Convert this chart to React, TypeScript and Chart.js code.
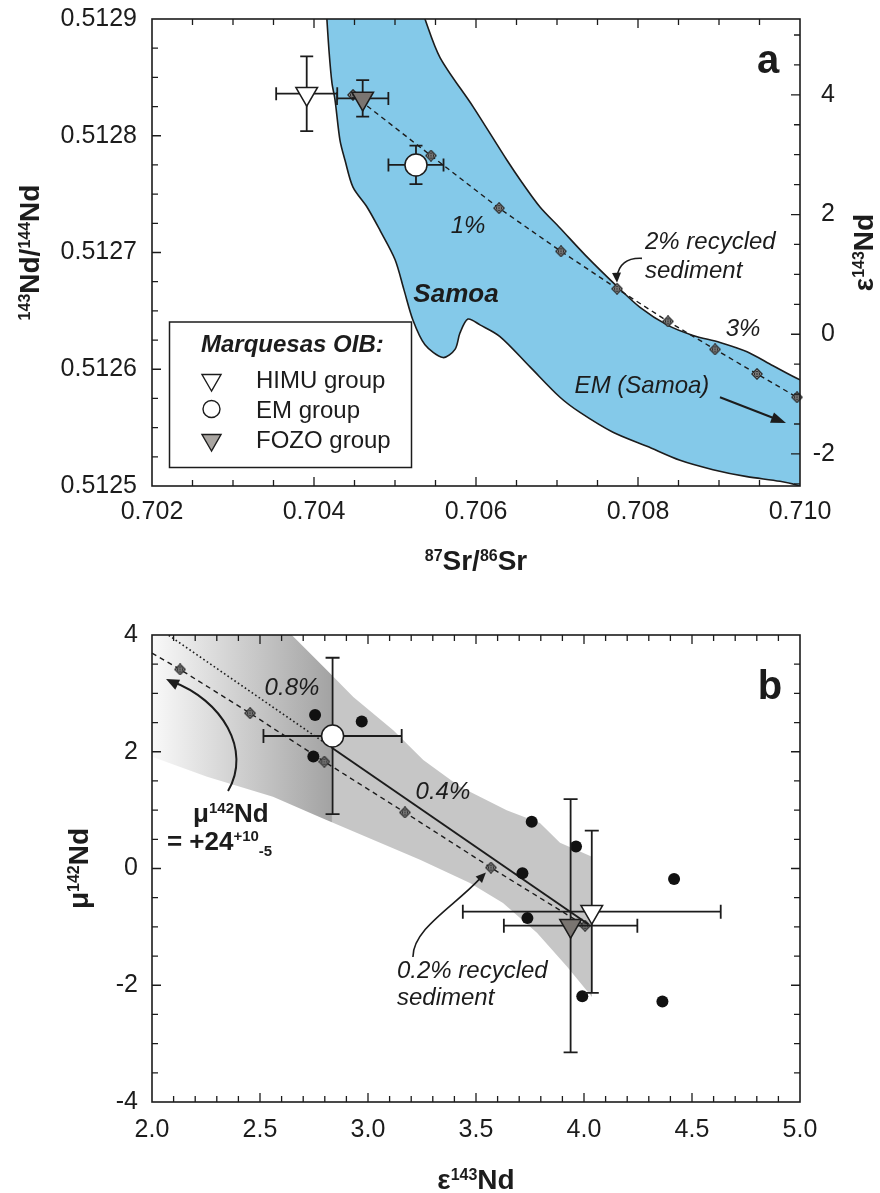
import React, { useEffect, useRef } from "react";
import { Chart, registerables } from "chart.js";

Chart.register(...registerables);

const FONT = '"Liberation Sans", Arial, Helvetica, sans-serif';
const INK = "#1c1c1c";
const SAMOA_BLUE = "#84c9e9";
Chart.defaults.font.family = FONT;
Chart.defaults.font.size = 25;
Chart.defaults.color = INK;

/* ---------------- panel a: 87Sr/86Sr vs 143Nd/144Nd ---------------- */

const CHUR_ND = 0.51263; // 143Nd/144Nd (CHUR) used for the εNd axis

const srTicks = [0.702, 0.704, 0.706, 0.708, 0.71];
const ndTicks = [0.5125, 0.5126, 0.5127, 0.5128, 0.5129];
const epsTicksA = [-2, 0, 2, 4];

// Samoa field outline, traced clockwise; the ends run past the frame and are clipped
const samoaSr = [
  0.704148, 0.704185, 0.704222, 0.704259, 0.704321, 0.704383, 0.704481, 0.704654,
  0.704815, 0.705, 0.705111, 0.705222, 0.70537, 0.705593, 0.705741, 0.705802,
  0.705901, 0.706049, 0.706296, 0.706667, 0.707037, 0.707284, 0.707691, 0.708111,
  0.708519, 0.708926, 0.709346, 0.709753, 0.71, 0.710185, 0.710185, 0.71,
  0.709667, 0.709346, 0.709012, 0.708679, 0.708358, 0.708025, 0.707741, 0.707346,
  0.707037, 0.70679, 0.706568, 0.706383, 0.705963, 0.705556, 0.70537, 0.705321,
];
const samoaNd = [
  0.512912, 0.512873, 0.512845, 0.512831, 0.512796, 0.512779, 0.512756, 0.512739,
  0.512719, 0.512694, 0.512668, 0.512642, 0.512621, 0.51261, 0.512617, 0.512631,
  0.512643, 0.512638, 0.512628, 0.512602, 0.512576, 0.512563, 0.512546, 0.512534,
  0.512522, 0.512514, 0.512508, 0.512504, 0.5125, 0.512495, 0.512587, 0.512591,
  0.512603, 0.512615, 0.512623, 0.512629, 0.512638, 0.512653, 0.512671, 0.512698,
  0.512721, 0.512739, 0.51276, 0.512779, 0.512825, 0.512867, 0.5129, 0.512912,
];

// recycled-sediment mixing curve, 0.5 % steps from 0 to 4 %
const mixSr = [0.704481, 0.705444, 0.706284, 0.707049, 0.707741, 0.70837, 0.708951, 0.709469, 0.709963];
const mixNd = [0.512835, 0.512783, 0.512738, 0.512701, 0.512669, 0.512641, 0.512617, 0.512596, 0.512576];

// Marquesas OIB group means (HIMU, EM, FOZO) with error bars
const groupLabels = ["HIMU group", "EM group", "FOZO group"];
const groupSr = [0.70391, 0.705259, 0.704601];
const groupSrErr = [0.000377, 0.00034, 0.000317];
const groupNd = [0.512836, 0.512775, 0.512832];
const groupNdErr = [0.000032, 0.0000165, 0.0000157];

/* ---------------- panel b: ε143Nd vs μ142Nd ---------------- */

const epsTicksB = [2.0, 2.5, 3.0, 3.5, 4.0, 4.5, 5.0];
const muTicks = [-4, -2, 0, 2, 4];

// individual samples
const sampleEps = [2.755, 2.971, 2.747, 3.758, 3.963, 3.715, 3.738, 3.992, 4.417, 4.363];
const sampleMu = [2.63, 2.52, 1.92, 0.8, 0.375, -0.08, -0.85, -2.19, -0.18, -2.28];

// group means (HIMU, EM, FOZO) with error bars
const groupEps = [4.036, 2.836, 3.938];
const groupEpsErr = [0.597, 0.32, 0.309];
const groupMu = [-0.74, 2.27, -0.98];
const groupMuErr = [1.39, 1.34, 2.17];

// uncertainty envelope of the mixing model
const bandEps = [
  1.95, 2.593, 2.809, 2.932, 3.117, 3.256, 3.426, 3.642, 3.796, 3.889, 4.037,
  4.037, 3.921, 3.782, 3.625, 3.472, 3.241, 2.778, 2.56, 2.255, 1.95,
];
const bandMu = [
  4.2, 4.2, 3.4, 2.94, 2.37, 1.86, 1.4, 1.0, 0.78, 0.44, 0.2,
  -2.2, -1.68, -1.1, -0.59, -0.25, 0.15, 0.88, 1.23, 1.57, 1.98,
];

// mixing curve, 0.2 % steps (first value is where the line leaves the frame)
const mixEpsB = [2.0, 2.13, 2.454, 2.798, 3.171, 3.569, 4.005];
const mixMuB = [3.69, 3.41, 2.66, 1.83, 0.96, 0.015, -0.98];
const mixMarkB = [0, 1, 1, 1, 1, 1, 1];

// HIMU–EM trend: dotted beyond EM, solid between EM and HIMU
const dottedEps = [2.836, 2.04];
const dottedMu = [2.06, 4.09];
const solidEps = [2.836, 4.02];
const solidMu = [2.06, -0.955];

/* ---------------- helpers ---------------- */

const epsOf = (r: number) => (r / CHUR_ND - 1) * 1e4;
const pts = (xs: number[], ys: number[]) => xs.map((x, i) => ({ x, y: ys[i] }));
const steps = (min: number, max: number, step: number) => {
  const out: number[] = [];
  const n = Math.round((max - min) / step);
  for (let i = 0; i <= n; i++) out.push(min + i * step);
  return out;
};

type Run = { t: string; v?: "sup" | "sub" };

function drawRuns(
  ctx: CanvasRenderingContext2D, parts: Run[], x: number, y: number,
  size: number, small: number, style: string, align: "left" | "center", rot = 0
) {
  ctx.save();
  ctx.translate(x, y);
  if (rot) ctx.rotate(rot);
  ctx.textAlign = "left";
  ctx.textBaseline = "alphabetic";
  const f = (p: Run) => `${style} ${p.v ? small : size}px ${FONT}`;
  let w = 0;
  parts.forEach((p) => { ctx.font = f(p); w += ctx.measureText(p.t).width; });
  let cx = align === "center" ? -w / 2 : 0;
  parts.forEach((p) => {
    ctx.font = f(p);
    const dy = p.v === "sup" ? -size * 0.33 : p.v === "sub" ? size * 0.24 : 0;
    ctx.fillText(p.t, cx, dy);
    cx += ctx.measureText(p.t).width;
  });
  ctx.restore();
}

function text(ctx: CanvasRenderingContext2D, t: string, x: number, y: number, font: string,
  align: CanvasTextAlign = "center", base: CanvasTextBaseline = "middle") {
  ctx.font = font;
  ctx.textAlign = align;
  ctx.textBaseline = base;
  ctx.fillText(t, x, y);
}

function arrowHead(ctx: CanvasRenderingContext2D, tx: number, ty: number, fx: number, fy: number, len = 10, half = 4.5) {
  const a = Math.atan2(ty - fy, tx - fx);
  ctx.beginPath();
  ctx.moveTo(tx, ty);
  ctx.lineTo(tx - len * Math.cos(a) + half * Math.sin(a), ty - len * Math.sin(a) - half * Math.cos(a));
  ctx.lineTo(tx - len * Math.cos(a) - half * Math.sin(a), ty - len * Math.sin(a) + half * Math.cos(a));
  ctx.closePath();
  ctx.fill();
}

function tickMarks(ctx: CanvasRenderingContext2D, area: any, scale: any, vals: number[], major: number, side: string) {
  ctx.beginPath();
  vals.forEach((v) => {
    const p = scale.getPixelForValue(v);
    const isMajor = Math.abs(v / major - Math.round(v / major)) < 1e-6;
    const L = isMajor ? 9 : 6;
    if (side === "bottom" || side === "top") {
      if (p < area.left + 1 || p > area.right - 1) return;
      const y0 = side === "bottom" ? area.bottom : area.top;
      ctx.moveTo(p, y0);
      ctx.lineTo(p, side === "bottom" ? y0 - L : y0 + L);
    } else {
      if (p < area.top + 1 || p > area.bottom - 1) return;
      const x0 = side === "left" ? area.left : area.right;
      ctx.moveTo(x0, p);
      ctx.lineTo(side === "left" ? x0 + L : x0 - L, p);
    }
  });
  ctx.stroke();
}

function triangleDown(ctx: CanvasRenderingContext2D, x: number, y: number, r: number, fill: string) {
  ctx.beginPath();
  ctx.moveTo(x, y + r);
  ctx.lineTo(x - r * 0.866, y - r / 2);
  ctx.lineTo(x + r * 0.866, y - r / 2);
  ctx.closePath();
  ctx.fillStyle = fill;
  ctx.fill();
  ctx.stroke();
}

function makeMixMarker(): HTMLCanvasElement {
  const s = 12;
  const c = document.createElement("canvas");
  c.width = s;
  c.height = s;
  const g = c.getContext("2d")!;
  const h = s / 2;
  g.strokeStyle = "#2a2a2a";
  g.fillStyle = "#d6d6d6";
  g.lineWidth = 1.3;
  g.beginPath();
  g.moveTo(h, 0.8); g.lineTo(s - 0.8, h); g.lineTo(h, s - 0.8); g.lineTo(0.8, h);
  g.closePath();
  g.fill();
  g.stroke();
  g.lineWidth = 1;
  g.beginPath();
  g.arc(h, h, 2.6, 0, Math.PI * 2);
  g.moveTo(h, 2.4); g.lineTo(h, s - 2.4);
  g.moveTo(2.4, h); g.lineTo(s - 2.4, h);
  g.stroke();
  return c;
}

function errorBars(xs: number[], ys: number[], xe: number[], ye: number[], cap: number) {
  return {
    id: "errorBars",
    beforeDatasetsDraw(chart: any) { chart.$ebDone = false; },
    beforeDatasetDraw(chart: any, args: any) {
      const ds = chart.data.datasets[args.index];
      if (!ds.isGroup || chart.$ebDone) return;
      chart.$ebDone = true;
      const ctx = chart.ctx, sx = chart.scales.x, sy = chart.scales.y;
      ctx.save();
      ctx.strokeStyle = INK;
      ctx.lineWidth = 1.8;
      ctx.beginPath();
      xs.forEach((x, i) => {
        const px = sx.getPixelForValue(x), py = sy.getPixelForValue(ys[i]);
        const l = sx.getPixelForValue(x - xe[i]), r = sx.getPixelForValue(x + xe[i]);
        const t = sy.getPixelForValue(ys[i] + ye[i]), b = sy.getPixelForValue(ys[i] - ye[i]);
        ctx.moveTo(l, py); ctx.lineTo(r, py);
        ctx.moveTo(l, py - cap); ctx.lineTo(l, py + cap);
        ctx.moveTo(r, py - cap); ctx.lineTo(r, py + cap);
        ctx.moveTo(px, t); ctx.lineTo(px, b);
        ctx.moveTo(px - cap, t); ctx.lineTo(px + cap, t);
        ctx.moveTo(px - cap, b); ctx.lineTo(px + cap, b);
      });
      ctx.stroke();
      ctx.restore();
    },
  };
}

const groupDataset = (i: number, xs: number[], ys: number[]) => {
  const base: any = {
    label: groupLabels[i],
    data: [{ x: xs[i], y: ys[i] }],
    pointBackgroundColor: ["#ffffff", "#ffffff", "#7a7571"][i],
    pointBorderColor: INK,
    pointBorderWidth: 1.5,
    order: 0,
    clip: false,
    isGroup: true,
  };
  if (i === 1) return { ...base, pointStyle: "circle", pointRadius: 11 };
  return { ...base, pointStyle: "triangle", pointRotation: 180, pointRadius: 12.5 };
};

const axisCommon = {
  type: "linear" as const,
  grid: { display: false, drawTicks: false },
  border: { display: false },
};

// vertical axes: fixed width, and no extra room reserved for the end labels
const fixWidth = (w: number) => (s: any) => {
  s.width = w;
  s.paddingTop = 0;
  s.paddingBottom = 0;
};

/* ---------------- panel a ---------------- */

const decorA = {
  id: "decorA",
  afterDatasetsDraw(chart: any) {
    const ctx: CanvasRenderingContext2D = chart.ctx;
    const sx = chart.scales.x, sy = chart.scales.y, a = chart.chartArea;
    const X = (v: number) => sx.getPixelForValue(v), Y = (v: number) => sy.getPixelForValue(v);
    ctx.save();
    ctx.fillStyle = INK;
    ctx.strokeStyle = INK;

    text(ctx, "Samoa", X(0.705753), Y(0.512664), `italic bold 26px ${FONT}`);
    text(ctx, "1%", X(0.705901), Y(0.512722), `italic 24px ${FONT}`);
    text(ctx, "3%", X(0.709296), Y(0.512634), `italic 24px ${FONT}`);
    text(ctx, "2% recycled", X(0.708086), Y(0.512703), `italic 24px ${FONT}`, "left", "alphabetic");
    text(ctx, "sediment", X(0.708086), Y(0.512678), `italic 24px ${FONT}`, "left", "alphabetic");
    text(ctx, "EM (Samoa)", X(0.708049), Y(0.512585), `italic 24px ${FONT}`);

    // arrow onto the 2 % point of the mixing curve
    const tipX = X(mixSr[4]), tipY = Y(mixNd[4]) - 6;
    const sX = X(0.708049), sY = Y(0.512695);
    const cX = tipX + 3, cY = sY - 1;
    ctx.lineWidth = 1.6;
    ctx.beginPath();
    ctx.moveTo(sX, sY);
    ctx.quadraticCurveTo(cX, cY, tipX, tipY - 6);
    ctx.stroke();
    arrowHead(ctx, tipX, tipY, tipX - 0.5, tipY - 10, 10, 4.5);

    // arrow towards the EM (Samoa) end-member
    const e0x = X(0.709012), e0y = Y(0.512576), e1x = X(0.709827), e1y = Y(0.512554);
    ctx.lineWidth = 2;
    ctx.beginPath();
    ctx.moveTo(e0x, e0y);
    ctx.lineTo(e1x - 8, e1y - 3.2);
    ctx.stroke();
    arrowHead(ctx, e1x, e1y, e0x, e0y, 15, 5.5);

    // legend box
    const L = a.left + 17.5, T = a.top + 303, W = 242, H = 145.5;
    ctx.fillStyle = "#ffffff";
    ctx.fillRect(L, T, W, H);
    ctx.lineWidth = 1.5;
    ctx.strokeRect(L, T, W, H);
    ctx.fillStyle = INK;
    text(ctx, "Marquesas OIB:", L + 31.5, T + 30, `italic bold 24px ${FONT}`, "left", "alphabetic");
    const rows = [66, 96, 126];
    groupLabels.forEach((g, i) => {
      text(ctx, g, L + 86.5, T + rows[i], `24px ${FONT}`, "left", "alphabetic");
    });
    ctx.lineWidth = 1.4;
    triangleDown(ctx, L + 42, T + rows[0] - 8, 11, "#ffffff");
    ctx.beginPath();
    ctx.arc(L + 42, T + rows[1] - 9, 8.5, 0, Math.PI * 2);
    ctx.fillStyle = "#ffffff";
    ctx.fill();
    ctx.stroke();
    triangleDown(ctx, L + 42, T + rows[2] - 8, 11, "#a9a5a1");
    ctx.fillStyle = INK;

    text(ctx, "a", X(0.709605), Y(0.512863), `bold 40px ${FONT}`);
    ctx.restore();
  },
  afterDraw(chart: any) {
    const ctx: CanvasRenderingContext2D = chart.ctx;
    const a = chart.chartArea;
    ctx.save();
    ctx.strokeStyle = INK;
    ctx.fillStyle = INK;
    ctx.lineWidth = 1.3;
    const xt = steps(0.702, 0.71, 0.0005);
    tickMarks(ctx, a, chart.scales.x, xt, 0.002, "bottom");
    tickMarks(ctx, a, chart.scales.x, xt, 0.002, "top");
    tickMarks(ctx, a, chart.scales.y, steps(0.5125, 0.5129, 0.000025), 0.0001, "left");
    tickMarks(ctx, a, chart.scales.y2, steps(-2.5, 5, 0.5), 2, "right");
    ctx.lineWidth = 1.6;
    ctx.strokeRect(a.left, a.top, a.right - a.left, a.bottom - a.top);

    const mid = (a.top + a.bottom) / 2;
    drawRuns(ctx, [{ t: "87", v: "sup" }, { t: "Sr/" }, { t: "86", v: "sup" }, { t: "Sr" }],
      (a.left + a.right) / 2, a.bottom + 84, 28, 16, "bold", "center");
    drawRuns(ctx, [{ t: "143", v: "sup" }, { t: "Nd/" }, { t: "144", v: "sup" }, { t: "Nd" }],
      39, mid, 28, 16, "bold", "center", -Math.PI / 2);
    drawRuns(ctx, [{ t: "ε" }, { t: "143", v: "sup" }, { t: "Nd" }],
      873, mid, 28, 16, "bold", "center", -Math.PI / 2);
    ctx.restore();
  },
};

function buildPanelA(canvas: HTMLCanvasElement, mark: HTMLCanvasElement) {
  return new Chart(canvas, {
    type: "scatter",
    data: {
      datasets: [
        {
          label: "Samoa",
          data: pts(samoaSr, samoaNd),
          showLine: true,
          fill: "shape",
          backgroundColor: SAMOA_BLUE,
          borderColor: INK,
          borderWidth: 1.6,
          tension: 0.3,
          capBezierPoints: false,
          pointRadius: 0,
          clip: 0,
          order: 10,
        } as any,
        {
          label: "recycled sediment",
          data: pts(mixSr, mixNd),
          showLine: true,
          borderColor: INK,
          borderWidth: 1.4,
          borderDash: [5, 4],
          pointStyle: mark,
          pointRadius: 5,
          clip: false,
          order: 5,
        } as any,
        groupDataset(0, groupSr, groupNd),
        groupDataset(1, groupSr, groupNd),
        groupDataset(2, groupSr, groupNd),
      ],
    },
    options: {
      responsive: false,
      animation: false,
      events: [],
      layout: { padding: { left: 0, right: 45, top: 19, bottom: 0 } },
      plugins: { legend: { display: false }, tooltip: { enabled: false } },
      scales: {
        x: {
          ...axisCommon,
          position: "bottom",
          min: 0.702,
          max: 0.71,
          afterBuildTicks: (s: any) => { s.ticks = srTicks.map((value) => ({ value })); },
          afterFit: (s: any) => { s.height = 104; },
          ticks: { autoSkip: false, maxRotation: 0, padding: 11, callback: (v: any) => Number(v).toFixed(3) },
        },
        y: {
          ...axisCommon,
          position: "left",
          min: 0.5125,
          max: 0.5129,
          afterBuildTicks: (s: any) => { s.ticks = ndTicks.map((value) => ({ value })); },
          afterFit: fixWidth(152),
          ticks: { autoSkip: false, padding: 15, callback: (v: any) => Number(v).toFixed(4) },
        },
        y2: {
          ...axisCommon,
          position: "right",
          min: epsOf(0.5125),
          max: epsOf(0.5129),
          afterBuildTicks: (s: any) => { s.ticks = epsTicksA.map((value) => ({ value })); },
          afterFit: fixWidth(35),
          ticks: { autoSkip: false, crossAlign: "far", callback: (v: any) => String(v) },
        },
      },
    } as any,
    plugins: [errorBars(groupSr, groupNd, groupSrErr, groupNdErr, 6.5), decorA],
  });
}

/* ---------------- panel b ---------------- */

function bandFill(c: any) {
  const chart = c.chart;
  const area = chart.chartArea;
  if (!area) return "#c6c6c6";
  const sx = chart.scales.x;
  const x0 = sx.getPixelForValue(2.0), x1 = sx.getPixelForValue(2.83), x2 = sx.getPixelForValue(5.0);
  const g = chart.ctx.createLinearGradient(x0, 0, x2, 0);
  const t = (x1 - x0) / (x2 - x0);
  g.addColorStop(0, "#f9f9f9");
  g.addColorStop(t, "#a3a3a3");
  g.addColorStop(Math.min(1, t + 0.002), "#c6c6c6");
  g.addColorStop(1, "#c6c6c6");
  return g;
}

const decorB = {
  id: "decorB",
  afterDatasetsDraw(chart: any) {
    const ctx: CanvasRenderingContext2D = chart.ctx;
    const sx = chart.scales.x, sy = chart.scales.y;
    const X = (v: number) => sx.getPixelForValue(v), Y = (v: number) => sy.getPixelForValue(v);
    ctx.save();
    ctx.fillStyle = INK;
    ctx.strokeStyle = INK;

    text(ctx, "0.8%", X(2.648), Y(3.092), `italic 24px ${FONT}`);
    text(ctx, "0.4%", X(3.347), Y(1.312), `italic 24px ${FONT}`);
    text(ctx, "0.2% recycled", X(3.134), Y(-1.873), `italic 24px ${FONT}`, "left", "alphabetic");
    text(ctx, "sediment", X(3.134), Y(-2.336), `italic 24px ${FONT}`, "left", "alphabetic");

    // arrow onto the 0.2 % point
    const tipX = X(mixEpsB[5]) - 5, tipY = Y(mixMuB[5]) + 5;
    const sX = X(3.208), sY = Y(-1.514);
    ctx.lineWidth = 1.6;
    ctx.beginPath();
    ctx.moveTo(sX, sY);
    ctx.bezierCurveTo(sX, sY - 28, tipX - 32, tipY + 34, tipX - 6, tipY + 6);
    ctx.stroke();
    arrowHead(ctx, tipX, tipY, tipX - 10, tipY + 10, 10, 4.5);

    // μ142Nd estimate with its arrow
    drawRuns(ctx, [{ t: "μ" }, { t: "142", v: "sup" }, { t: "Nd" }], X(2.19), Y(0.798), 26, 15, "bold", "left");
    drawRuns(ctx, [{ t: "= +24" }, { t: "+10", v: "sup" }, { t: "-5", v: "sub" }], X(2.069), Y(0.318), 26, 15, "bold", "left");
    const a0x = X(2.352), a0y = Y(1.329);
    const ex = X(2.065), ey = Y(3.247);
    ctx.lineWidth = 2;
    ctx.beginPath();
    ctx.moveTo(a0x, a0y);
    ctx.bezierCurveTo(X(2.463), Y(2.03), X(2.324), Y(2.887), ex + 6, ey + 2.5);
    ctx.stroke();
    arrowHead(ctx, ex, ey, X(2.2), Y(3.0), 13, 5.5);

    text(ctx, "b", X(4.861), Y(3.092), `bold 40px ${FONT}`);
    ctx.restore();
  },
  afterDraw(chart: any) {
    const ctx: CanvasRenderingContext2D = chart.ctx;
    const a = chart.chartArea;
    ctx.save();
    ctx.strokeStyle = INK;
    ctx.fillStyle = INK;
    ctx.lineWidth = 1.3;
    const xt = steps(2, 5, 0.1), yt = steps(-4, 4, 0.5);
    tickMarks(ctx, a, chart.scales.x, xt, 0.5, "bottom");
    tickMarks(ctx, a, chart.scales.x, xt, 0.5, "top");
    tickMarks(ctx, a, chart.scales.y, yt, 2, "left");
    tickMarks(ctx, a, chart.scales.y, yt, 2, "right");
    ctx.lineWidth = 1.6;
    ctx.strokeRect(a.left, a.top, a.right - a.left, a.bottom - a.top);

    const mid = (a.top + a.bottom) / 2;
    drawRuns(ctx, [{ t: "ε" }, { t: "143", v: "sup" }, { t: "Nd" }],
      (a.left + a.right) / 2, a.bottom + 87, 28, 16, "bold", "center");
    drawRuns(ctx, [{ t: "μ" }, { t: "142", v: "sup" }, { t: "Nd" }],
      88, mid, 28, 16, "bold", "center", -Math.PI / 2);
    ctx.restore();
  },
};

function buildPanelB(canvas: HTMLCanvasElement, mark: HTMLCanvasElement) {
  return new Chart(canvas, {
    type: "scatter",
    data: {
      datasets: [
        {
          label: "model envelope",
          data: pts(bandEps, bandMu),
          showLine: true,
          fill: "shape",
          backgroundColor: bandFill,
          borderWidth: 0,
          borderColor: "rgba(0,0,0,0)",
          pointRadius: 0,
          clip: 0,
          order: 10,
        } as any,
        {
          label: "trend (extrapolated)",
          data: pts(dottedEps, dottedMu),
          showLine: true,
          borderColor: INK,
          borderWidth: 1.6,
          borderDash: [1.6, 2.6],
          pointRadius: 0,
          clip: 0,
          order: 8,
        } as any,
        {
          label: "recycled sediment",
          data: pts(mixEpsB, mixMuB),
          showLine: true,
          borderColor: INK,
          borderWidth: 1.4,
          borderDash: [5, 4],
          pointStyle: mark,
          pointRadius: mixMarkB.map((m) => (m ? 5 : 0)),
          clip: false,
          order: 7,
        } as any,
        {
          label: "trend",
          data: pts(solidEps, solidMu),
          showLine: true,
          borderColor: INK,
          borderWidth: 2,
          pointRadius: 0,
          clip: 0,
          order: 6,
        } as any,
        {
          label: "samples",
          data: pts(sampleEps, sampleMu),
          pointStyle: "circle",
          pointRadius: 6,
          pointBackgroundColor: "#111111",
          pointBorderColor: "#111111",
          pointBorderWidth: 0,
          clip: false,
          order: 4,
        } as any,
        groupDataset(0, groupEps, groupMu),
        groupDataset(1, groupEps, groupMu),
        groupDataset(2, groupEps, groupMu),
      ],
    },
    options: {
      responsive: false,
      animation: false,
      events: [],
      layout: { padding: { left: 0, right: 80, top: 45, bottom: 0 } },
      plugins: { legend: { display: false }, tooltip: { enabled: false } },
      scales: {
        x: {
          ...axisCommon,
          position: "bottom",
          min: 2,
          max: 5,
          afterBuildTicks: (s: any) => { s.ticks = epsTicksB.map((value) => ({ value })); },
          afterFit: (s: any) => { s.height = 91; },
          ticks: { autoSkip: false, maxRotation: 0, padding: 13, callback: (v: any) => Number(v).toFixed(1) },
        },
        y: {
          ...axisCommon,
          position: "left",
          min: -4,
          max: 4,
          afterBuildTicks: (s: any) => { s.ticks = muTicks.map((value) => ({ value })); },
          afterFit: fixWidth(152),
          ticks: { autoSkip: false, padding: 14, callback: (v: any) => String(v) },
        },
      },
    } as any,
    plugins: [errorBars(groupEps, groupMu, groupEpsErr, groupMuErr, 7), decorB],
  });
}

export default function App() {
  const refA = useRef<HTMLCanvasElement>(null);
  const refB = useRef<HTMLCanvasElement>(null);
  useEffect(() => {
    const mark = makeMixMarker();
    const a = buildPanelA(refA.current!, mark);
    const b = buildPanelB(refB.current!, mark);
    return () => {
      a.destroy();
      b.destroy();
    };
  }, []);
  return (
    <div style={{ position: "absolute", left: 0, top: 0, width: 880, height: 1193, background: "#ffffff" }}>
      <canvas ref={refA} width={880} height={590} style={{ position: "absolute", left: 0, top: 0 }} />
      <canvas ref={refB} width={880} height={603} style={{ position: "absolute", left: 0, top: 590 }} />
    </div>
  );
}
